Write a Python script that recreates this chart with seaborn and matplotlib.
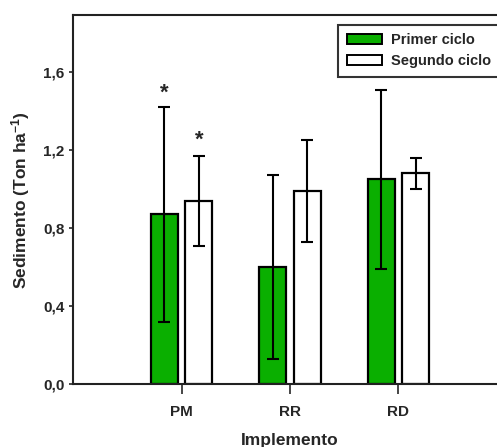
import numpy as np
import pandas as pd
import seaborn as sns
import matplotlib
matplotlib.use("Agg")
import matplotlib.pyplot as plt
from matplotlib.patches import Patch

# values
implementos = ["PM", "RR", "RD"]
ciclos = ["Primer ciclo", "Segundo ciclo"]
primer = [0.87, 0.60, 1.05]
primer_err = [0.55, 0.47, 0.46]
segundo = [0.94, 0.99, 1.08]
segundo_err = [0.23, 0.26, 0.08]
yticks = [0.0, 0.4, 0.8, 1.2, 1.6]
ytick_labels = ["0,0", "0,4", "0,8", "1,2", "1,6"]
# asterisk marks (implemento, ciclo, y)
marcas = [("PM", "Primer ciclo", 1.49), ("PM", "Segundo ciclo", 1.25)]

df = pd.DataFrame({
    "Implemento": implementos * 2,
    "Ciclo": [ciclos[0]] * 3 + [ciclos[1]] * 3,
    "Sedimento": primer + segundo,
})
errs = {ciclos[0]: primer_err, ciclos[1]: segundo_err}

sns.set_style("ticks")
plt.rcParams["font.family"] = ["Liberation Sans", "DejaVu Sans"]
plt.rcParams["font.weight"] = "bold"
plt.rcParams["mathtext.fontset"] = "custom"
plt.rcParams["mathtext.bf"] = "Liberation Sans:bold"
plt.rcParams["mathtext.rm"] = "Liberation Sans:bold"
plt.rcParams["mathtext.default"] = "bf"

fig = plt.figure(figsize=(4.97, 4.47), dpi=100)
ax = fig.add_axes([0.147, 0.141, 0.873, 0.825])

colores = {ciclos[0]: "#0aaf00", ciclos[1]: "white"}
sns.barplot(data=df, x="Implemento", y="Sedimento", hue="Ciclo",
            order=implementos, hue_order=ciclos, palette=colores,
            saturation=1, width=0.64, gap=0.22, edgecolor="black",
            linewidth=1.6, errorbar=None, legend=False, ax=ax)

# error bars at the bar centres
centros = {}
for ciclo, cont in zip(ciclos, ax.containers):
    xs = [p.get_x() + p.get_width() / 2 for p in cont.patches]
    hs = [p.get_height() for p in cont.patches]
    ax.errorbar(xs, hs, yerr=errs[ciclo], fmt="none", ecolor="black",
                elinewidth=1.5, capsize=4.3, capthick=1.5, zorder=5)
    for imp, x in zip(implementos, xs):
        centros[(imp, ciclo)] = x

for imp, ciclo, y in marcas:
    ax.text(centros[(imp, ciclo)], y, "*", ha="center", va="center",
            fontsize=16, fontweight="bold")

ax.set_xlim(-1, 3)
ax.set_ylim(0, 1.892)
ax.set_yticks(yticks)
ax.set_yticklabels(ytick_labels)
ax.tick_params(axis="y", length=3, width=1.2, labelsize=11, pad=3)
ax.tick_params(axis="x", length=7, width=1.2, labelsize=11, pad=8)
for lab in ax.get_xticklabels() + ax.get_yticklabels():
    lab.set_fontweight("bold")
for s in ax.spines.values():
    s.set_linewidth(1.5)
    s.set_color("#222222")

ax.set_xlabel("Implemento", fontsize=12.5, fontweight="bold", labelpad=10)
ax.set_ylabel("Sedimento (Ton ha$^{-1}$)", fontsize=12.5,
              fontweight="bold", labelpad=8)

handles = [Patch(facecolor=colores[c], edgecolor="black", linewidth=1.4, label=c)
           for c in ciclos]
leg = fig.legend(handles=handles, loc="upper right", bbox_to_anchor=(1.005, 0.945),
                 frameon=True, fancybox=False, edgecolor="black",
                 prop={"weight": "bold", "size": 10.5}, handlelength=2.4,
                 handleheight=0.7, borderpad=0.6, labelspacing=0.45,
                 handletextpad=0.6, borderaxespad=0)
leg.get_frame().set_linewidth(1.5)

fig.savefig("out.png", dpi=100)
